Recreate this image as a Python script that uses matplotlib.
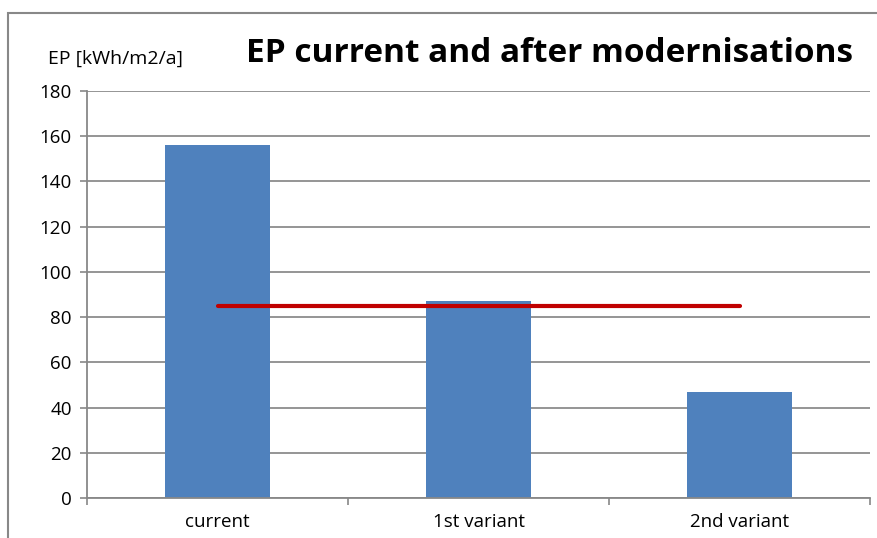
import matplotlib
matplotlib.use("Agg")
import matplotlib.pyplot as plt
from matplotlib.patches import Rectangle
import numpy as np

categories = ["current", "1st variant", "2nd variant"]
ep_values = [156, 87, 47]
target_level = 85
y_ticks = [0, 20, 40, 60, 80, 100, 120, 140, 160, 180]

plt.rcParams["font.family"] = ["Open Sans", "DejaVu Sans"]

fig = plt.figure(figsize=(8.78, 5.38), dpi=100)
ax = fig.add_axes([0.0991, 0.0743, 0.8918, 0.7566])

x = np.arange(len(categories))
ax.bar(x, ep_values, width=0.4, color="#4F81BD", zorder=2)
ax.plot([x[0], x[-1]], [target_level, target_level], color="#C00000",
        linewidth=3.0, solid_capstyle="round", zorder=3)

ax.set_xlim(-0.5, len(categories) - 0.5)
ax.set_ylim(0, 180)
ax.set_yticks(y_ticks)
ax.set_xticks(x)
ax.set_xticklabels(categories)
ax.set_xticks(np.arange(len(categories) + 1) - 0.5, minor=True)
ax.tick_params(axis="x", which="major", length=0, pad=11, labelsize=13.5)
ax.tick_params(axis="x", which="minor", length=5, width=1.2, color="#888888")
ax.tick_params(axis="y", length=5, width=1.2, color="#888888", labelsize=13.5, pad=6)

ax.grid(axis="y", color="#8C8C8C", linewidth=1.3, zorder=1)
ax.set_axisbelow(True)
for side in ["top", "right"]:
    ax.spines[side].set_visible(False)
for side in ["left", "bottom"]:
    ax.spines[side].set_color("#888888")
    ax.spines[side].set_linewidth(1.3)

fig.text(0.626, 0.901, "EP current and after modernisations", fontsize=24,
         fontweight="bold", ha="center", va="center")
fig.text(0.132, 0.89, "EP [kWh/m2/a]", fontsize=14, ha="center", va="center")

fig.patches.append(Rectangle((0.0091, -0.1), 1.2, 0.1 + 0.9758, transform=fig.transFigure,
                             fill=False, edgecolor="#888888", linewidth=1.5))

fig.savefig("out.png", dpi=100)
